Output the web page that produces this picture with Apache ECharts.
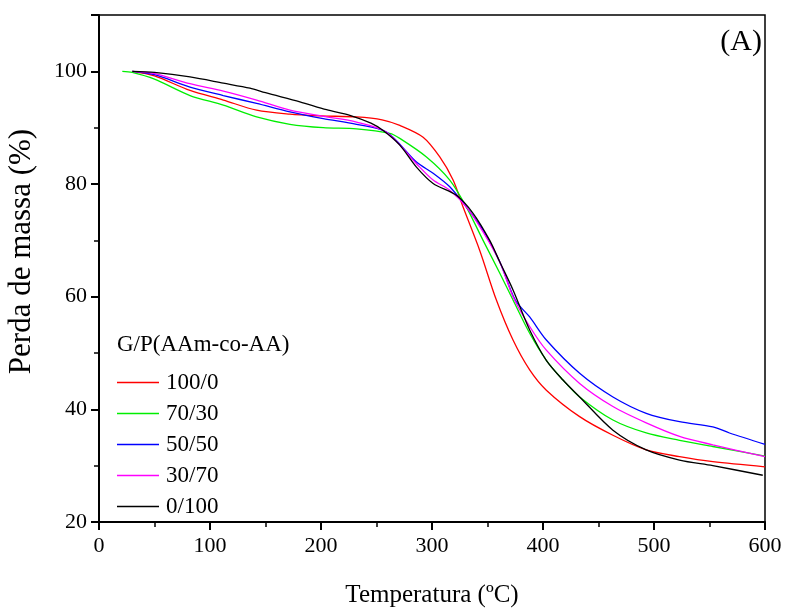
<!DOCTYPE html>
<html>
<head>
<meta charset="utf-8">
<script src="https://cdn.jsdelivr.net/npm/echarts@6/dist/echarts.min.js"></script>
<style>html,body{margin:0;padding:0;background:#fff}#c{width:786px;height:611px}</style>
</head>
<body>
<div id="c"></div>
<script>
// ---- data (temperature °C, mass %) ----
const seriesNames = ['100/0', '70/30', '50/50', '30/70', '0/100'];
const red = [[30,100],[50,99.2],[82,96.6],[112,94.9],[142,93.1],[172,92.4],[200,92.1],[232,91.9],[255,91.4],[271,90.4],[292,88.3],[307,84.8],[319,80.7],[328,75.9],[343,68.2],[358,59.4],[373,52.3],[388,47.0],[403,43.4],[433,38.7],[463,35.4],[493,32.8],[523,31.6],[553,30.7],[600,29.8]];
const green = [[21,100],[30,99.8],[50,98.6],[82,95.7],[112,94.0],[142,91.9],[172,90.6],[202,90.0],[232,89.8],[262,89.0],[271,88.1],[295,84.8],[316,80.7],[331,75.9],[346,70.0],[361,64.2],[373,59.4],[388,53.5],[403,48.7],[418,45.2],[433,42.2],[463,38.1],[493,35.8],[523,34.5],[553,33.4],[600,31.7]];
const blue = [[30,100],[50,99.4],[82,97.2],[112,95.7],[142,94.3],[172,92.8],[202,91.6],[232,90.6],[259,89.2],[286,83.9],[301,81.9],[316,79.5],[331,75.9],[346,71.8],[361,66.2],[375,59.4],[388,56.4],[403,52.3],[433,46.4],[463,42.2],[493,39.3],[523,37.8],[553,36.9],[568,35.8],[600,33.8]];
const magenta = [[30,100],[50,99.6],[82,97.8],[112,96.5],[142,94.9],[172,93.1],[202,92.0],[232,91.0],[259,89.2],[286,83.6],[301,80.7],[316,78.9],[331,75.9],[346,71.5],[361,66.2],[373,60.0],[388,54.7],[403,50.5],[433,44.6],[463,40.5],[493,37.6],[523,35.2],[553,33.7],[600,31.6]];
const black = [[30,100],[50,99.8],[82,99.0],[112,97.9],[136,97.0],[150,96.2],[181,94.6],[205,93.2],[226,92.2],[245,90.8],[256,89.5],[271,86.9],[286,83.0],[301,80.1],[322,78.0],[337,74.8],[352,70.0],[361,66.2],[373,61.2],[388,54.1],[403,48.7],[418,45.2],[433,42.2],[463,36.3],[493,32.8],[523,31.0],[553,30.0],[598,28.3]];
const seriesData = [red, green, blue, magenta, black];
const colors = ['#ff0000', '#00ee00', '#0000ff', '#ff00ff', '#000000'];
const xTicks = [0, 100, 200, 300, 400, 500, 600];
const yTicks = [20, 40, 60, 80, 100];

const FONT = '"Liberation Serif", "DejaVu Serif", serif';
const chart = echarts.init(document.getElementById('c'), null, {renderer: 'canvas'});
chart.setOption({
  animation: false,
  backgroundColor: '#fff',
  grid: {left: 99, right: 21, top: 15, bottom: 89, containLabel: false, outerBoundsMode: 'none',
    show: true, borderColor: '#000', borderWidth: 1.5, backgroundColor: 'transparent'},
  legend: {
    orient: 'vertical', left: 112, top: 366,
    icon: 'rect', itemWidth: 42, itemHeight: 1.5, itemGap: 8,
    data: seriesNames,
    textStyle: {fontFamily: FONT, fontSize: 23, color: '#000', padding: [0, 0, 0, 2]}
  },
  graphic: [
    {type: 'text', left: 117, top: 333, style: {text: 'G/P(AAm-co-AA)', font: '23px ' + FONT, fill: '#000'}},
    {type: 'text', right: 24, top: 27, style: {text: '(A)', font: '30px ' + FONT, fill: '#000'}}
  ],
  xAxis: {
    type: 'value', min: 0, max: 600, interval: 100,
    name: 'Temperatura (ºC)', nameLocation: 'middle', nameGap: 61,
    nameTextStyle: {fontFamily: FONT, fontSize: 25, color: '#000'},
    axisLine: {show: true, onZero: false, lineStyle: {color: '#000', width: 2}},
    axisTick: {show: true, length: 8, lineStyle: {width: 2, color: '#000'}},
    minorTick: {show: true, splitNumber: 2, length: 5, lineStyle: {width: 1.5, color: '#000'}},
    splitLine: {show: false},
    axisLabel: {fontFamily: FONT, fontSize: 22, color: '#000', margin: 13,
      formatter: v => xTicks.includes(v) ? String(v) : ''}
  },
  yAxis: {
    type: 'value', min: 20, max: 110, interval: 20,
    name: 'Perda de massa (%)', nameLocation: 'middle', nameGap: 62, nameRotate: 90,
    nameTextStyle: {fontFamily: FONT, fontSize: 31, color: '#000', padding: [0, 0, 0, 34]},
    axisLine: {show: true, onZero: false, lineStyle: {color: '#000', width: 2}},
    axisTick: {show: true, length: 8, lineStyle: {width: 2, color: '#000'}},
    minorTick: {show: true, splitNumber: 2, length: 5, lineStyle: {width: 1.5, color: '#000'}},
    splitLine: {show: false},
    axisLabel: {fontFamily: FONT, fontSize: 22, color: '#000', margin: 12,
      formatter: v => yTicks.includes(v) ? String(v) : ''}
  },
  series: seriesNames.map((n, i) => ({
    name: n, type: 'line', data: seriesData[i], smooth: 0.3, symbol: 'none',
    lineStyle: {color: colors[i], width: 1.3}, itemStyle: {color: colors[i]}
  }))
});
</script>
</body>
</html>
